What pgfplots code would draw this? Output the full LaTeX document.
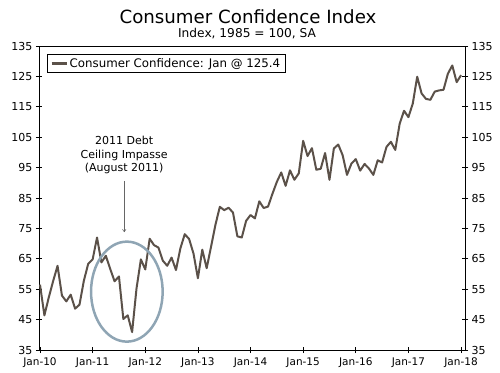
\documentclass[border=0pt]{standalone}
\usepackage{pgfplots}
\pgfplotsset{compat=1.18}
\usetikzlibrary{arrows.meta}
\usepackage{fontspec}
\setmainfont{DejaVu Sans}
\definecolor{linec}{HTML}{5B5149}
\definecolor{ellc}{HTML}{8FA5B4}
\pgfplotstableread{
m v
0 56.5
1 46.4
2 52.3
3 57.7
4 62.7
5 52.9
6 51.0
7 53.2
8 48.6
9 49.9
10 57.8
11 63.4
12 64.8
13 72.0
14 63.8
15 66.0
16 61.7
17 57.6
18 59.2
19 45.2
20 46.4
21 40.9
22 55.2
23 64.8
24 61.5
25 71.6
26 69.5
27 68.7
28 64.4
29 62.7
30 65.4
31 61.3
32 68.4
33 73.1
34 71.5
35 66.7
36 58.6
37 68.0
38 61.9
39 69.0
40 76.2
41 82.1
42 81.0
43 81.8
44 80.2
45 72.4
46 72.0
47 77.5
48 79.4
49 78.3
50 83.9
51 81.7
52 82.2
53 86.4
54 90.3
55 93.4
56 89.0
57 94.1
58 91.0
59 93.1
60 103.8
61 98.8
62 101.4
63 94.3
64 94.6
65 99.8
66 91.0
67 101.3
68 102.6
69 99.1
70 92.6
71 96.3
72 97.8
73 94.0
74 96.2
75 94.7
76 92.6
77 97.4
78 96.7
79 101.8
80 103.5
81 100.8
82 109.4
83 113.7
84 111.6
85 116.1
86 124.9
87 119.4
88 117.6
89 117.3
90 120.0
91 120.4
92 120.6
93 125.9
94 128.6
95 123.1
96 125.4
}\cci
\begin{document}
\begin{tikzpicture}[x=1pt,y=1pt]
\path (-39,-22) rectangle (461,350);
\pgfplotsset{
  common/.style={
    at={(0,0)}, anchor=south west, scale only axis,
    width=426pt, height=304pt,
    xmin=-0.23, xmax=96.9, ymin=35, ymax=135,
    ytick={35,45,...,135},
    tick align=center, major tick length=6pt,
    tick style={black, line width=0.8pt},
    axis line style={black, line width=0.8pt},
    ticklabel style={font=\fontsize{11}{13}\selectfont},
    /pgf/number format/assume math mode=true,
  }
}
\begin{axis}[common,
    xtick={0,12,...,96},
    xticklabels={Jan-10,Jan-11,Jan-12,Jan-13,Jan-14,Jan-15,Jan-16,Jan-17,Jan-18},
    xticklabel style={font=\fontsize{10.5}{12}\selectfont, yshift=-1pt},
    xtick pos=lower, ytick pos=both, yticklabel pos=left,
    legend style={at={(0.019,0.974)}, anchor=north west, draw=black, line width=0.8pt,
      font=\fontsize{11.8}{14}\selectfont, inner xsep=3pt, inner ysep=2pt},
    legend cell align=left,
    legend image code/.code={\draw[linec, line width=2.2pt] (0pt,0pt) -- (15pt,0pt);},
  ]
\addplot[linec, line width=2pt, line join=round] table[x=m,y=v]{\cci};
\addlegendentry{Consumer Confidence: Jan @ 125.4}
\draw[ellc, line width=2.5pt] (axis cs:19.8,54.2) ellipse [x radius=35.8pt, y radius=50pt];
\node[align=center, font=\fontsize{11}{13.8}\selectfont] at (axis cs:19.2,99.1) {2011 Debt\\Ceiling Impasse\\(August 2011)};
\draw[-{To[length=3pt,width=4pt]}, gray!80!black, line width=0.5pt] (axis cs:19.2,90.6) -- (axis cs:19.2,73.8);
\end{axis}
\begin{axis}[common,
    xtick=\empty, axis x line=none, axis y line*=right,
    ytick pos=right, yticklabel pos=right,
  ]
\end{axis}
\node[font=\fontsize{18.2}{20}\selectfont] at (209,333) {Consumer Confidence Index};
\node[font=\fontsize{12.2}{14}\selectfont] at (208,316) {Index, 1985 = 100, SA};
\end{tikzpicture}
\end{document}
